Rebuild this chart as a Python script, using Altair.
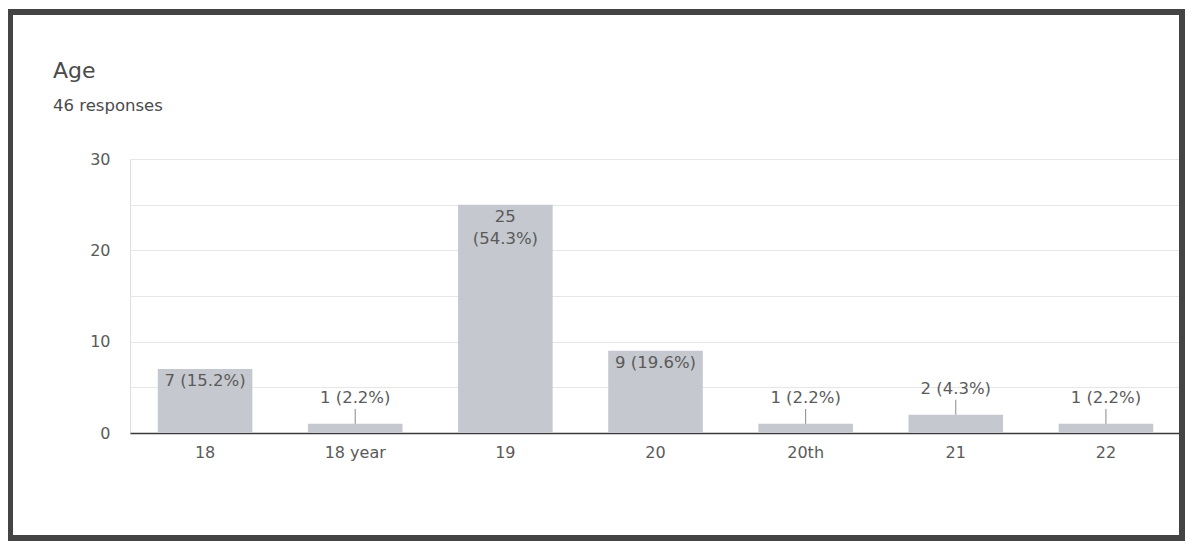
import altair as alt
import pandas as pd

title_text = "Age"
subtitle_text = "46 responses"
categories = ["18", "18 year", "19", "20", "20th", "21", "22"]
counts = [7, 1, 25, 9, 1, 2, 1]
labels = ["7 (15.2%)", "1 (2.2%)", "25\n(54.3%)", "9 (19.6%)", "1 (2.2%)", "2 (4.3%)", "1 (2.2%)"]
inside = [True, False, True, True, False, False, False]
y_ticks = [0, 5, 10, 15, 20, 25, 30]

df = pd.DataFrame({"cat": categories, "count": counts, "label": labels, "inside": inside})

W, H = 1051, 274
TXT = "#5a5a5a"
FONT = "DejaVu Sans"

x = alt.X("cat:N", sort=categories, title=None,
          scale=alt.Scale(paddingInner=0.37, paddingOuter=0.185),
          axis=alt.Axis(labelAngle=0, ticks=False, domain=True, domainColor="#3a3a3a",
                        domainWidth=1.5, labelFontSize=16, labelColor=TXT, labelPadding=11,
                        labelFont=FONT, grid=False))
y = alt.Y("count:Q", title=None, scale=alt.Scale(domain=[0, 30], nice=False),
          axis=alt.Axis(values=y_ticks, ticks=False, domain=False,
                        labelExpr="datum.value % 10 == 0 ? datum.label : ''",
                        labelFontSize=16, labelColor=TXT, labelPadding=20, labelFont=FONT,
                        gridColor="#e6e6e6", gridWidth=1))

base = alt.Chart(df)

bars = base.mark_bar(color="#c5c8ce").encode(x=x, y=y)

inside_txt = base.transform_filter("datum.inside").mark_text(
    baseline="top", dy=4, fontSize=16.5, color=TXT, font=FONT, lineBreak="\n", lineHeight=22
).encode(x=x, y=y, text="label:N")

outside_txt = base.transform_filter("!datum.inside").mark_text(
    baseline="bottom", dy=-18, fontSize=16.5, color=TXT, font=FONT
).encode(x=x, y=y, text="label:N")

leader = base.transform_filter("!datum.inside").mark_rule(
    color="#8a8a8a", strokeWidth=1, y2Offset=-15
).encode(x=x, y=y, y2="count:Q")

head = pd.DataFrame({"t": [title_text, subtitle_text], "size": [22, 16.5],
                     "ypix": [-81, -48]})
title_marks = alt.Chart(head).mark_text(
    align="left", baseline="alphabetic", font=FONT, color="#4a4a4a", clip=False
).encode(x=alt.value(-77), y=alt.Y("ypix:Q", scale=None), text="t:N",
         size=alt.Size("size:Q", scale=None, legend=None))

border = alt.Chart(pd.DataFrame({"a": [0]})).mark_rect(
    fill=None, stroke="#444444", strokeWidth=6, clip=False
).encode(x=alt.value(-120), x2=alt.value(1052), y=alt.value(-147), y2=alt.value(379))

chart = alt.layer(bars, leader, inside_txt, outside_txt, title_marks, border).properties(
    width=W, height=H,
    autosize=alt.AutoSizeParams(type="none"),
    padding={"left": 122, "top": 151, "right": 5, "bottom": 109},
).configure_view(stroke=None).configure(background="white")

chart.save("out.html", embed_options={"renderer": "svg", "actions": False})
